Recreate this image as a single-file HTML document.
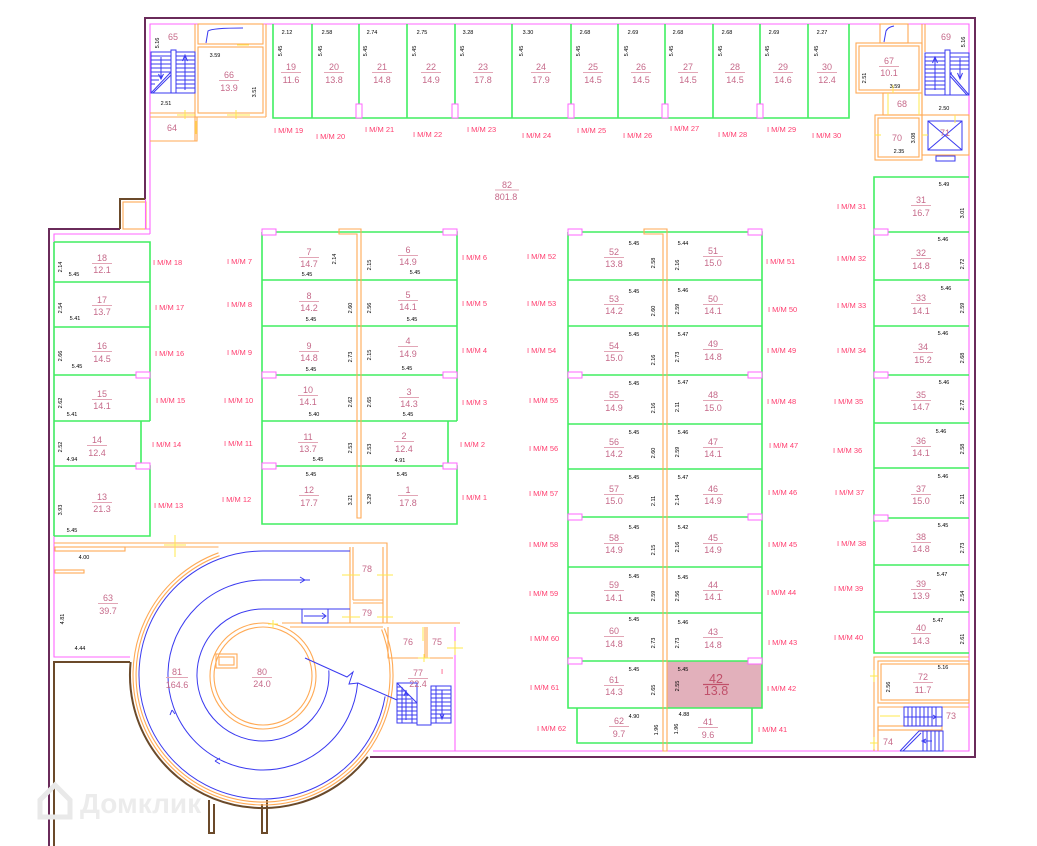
<!DOCTYPE html>
<html><head><meta charset="utf-8"><style>
html,body{margin:0;padding:0;background:#fff}
svg{display:block}
text{font-family:"Liberation Sans",sans-serif}
.l{font-size:7.5px;fill:#ff3c6e}
.n{font-size:9px;fill:#c66a8a;text-anchor:middle}
.d{font-size:5.5px;fill:#000;text-anchor:middle}
.g{stroke:#40ee60;stroke-width:1.6;fill:none}
.p{stroke:#ff66ff;stroke-width:1.1;fill:none}
.o{stroke:#ffaa55;stroke-width:1.1;fill:none}
.b{stroke:#3a3af0;stroke-width:1;fill:none}
.u{stroke:#e2a6b6;stroke-width:1;fill:none}
.y{stroke:#ffe84d;stroke-width:1;fill:none}
.dr{fill:#fff;stroke:#ff66ff;stroke-width:1}
.w{stroke:#6a2b5a;stroke-width:2;fill:none}
.br{stroke:#6b4a2a;stroke-width:2;fill:none}
</style></head><body>
<svg width="1037" height="846" viewBox="0 0 1037 846" xmlns="http://www.w3.org/2000/svg">
<rect width="1037" height="846" fill="#fff"/>

<!-- outer walls -->
<path class="w" d="M49,846 V229 H120 M145,199 V18 H975 V757 H370"/>
<path class="br" d="M145,199 H120 V229"/>
<path class="br" d="M54,846 V662 H130"/>
<path class="br" d="M130.6,662 A133,133 0 0 0 367.8,756.9"/>
<path class="br" stroke-width="1.5" d="M209,800 V833 H214 V804 M262,804 V833 H267 V800"/>
<rect class="o" x="123" y="202" width="23" height="27"/>

<!-- pink inner line -->
<path class="p" d="M150,234 V24 H969 V751 H455 M150,234 H54 V657 H130 M145.5,199 V229 H150"/>
<path class="p" d="M373,751 H455 V627"/>

<!-- top-left rooms -->
<path class="o" d="M195,24 V141 M197,117 V141 H150 M150,117 H266 M150,113 H195 M266,24 V117"/>
<rect class="o" x="198" y="24" width="65" height="20"/>
<rect class="o" x="198" y="47" width="65" height="66"/>
<path class="b" d="M206,43 L208,31 Q212,28 243,28"/>
<!-- stair 65 -->
<rect class="b" x="151" y="52" width="20" height="41"/>
<rect class="b" x="171" y="50" width="5" height="43"/>
<rect class="b" x="176" y="52" width="19" height="41"/>
<path class="b" d="M151,56h20M151,60h20M151,64h20M151,68h20M151,72h20M151,76h12M151,80h8M151,84h4M176,56h19M176,60h19M176,64h19M176,68h19M176,72h19M176,76h19M176,80h19M176,84h19M176,88h19M151,93L171,72M153,93L171,75"/>
<path class="b" d="M161,57V78M158.5,74L161,79L163.5,74M185,90V56M182.5,61L185,55L187.5,61"/>
<path class="y" d="M227,115h23M236,110v9M177,115h18M185,110v9M196,121v13M237,45h12"/>

<!-- top-right rooms -->
<rect class="o" x="880" y="24" width="28" height="19"/>
<path class="b" d="M884,42 L886,31 Q888,27 894,26"/>
<rect class="o" x="856" y="43" width="66" height="50"/>
<rect class="o" x="859" y="46" width="60" height="44"/>
<rect class="o" x="883" y="93" width="39" height="22"/>
<rect class="o" x="875" y="115" width="47" height="45"/>
<rect class="o" x="878" y="118" width="41" height="39"/>
<rect class="o" x="922" y="115" width="47" height="40"/>
<path class="o" d="M922,24 V115 M925,24 V52"/>
<rect class="b" x="928" y="121" width="34" height="29"/>
<path class="b" d="M928,121L962,150M962,121L928,150"/>
<rect class="b" x="936" y="156" width="19" height="5"/>
<!-- stair 69 -->
<rect class="b" x="925" y="53" width="20" height="42"/>
<rect class="b" x="945" y="50" width="5" height="45"/>
<rect class="b" x="950" y="53" width="19" height="42"/>
<path class="b" d="M925,57h20M925,61h20M925,65h20M925,69h20M925,73h20M925,77h20M925,81h20M925,85h20M925,89h20M950,57h19M950,61h19M950,65h19M950,69h19M950,73h2M950,73L969,95M950,76L967,95"/>
<path class="b" d="M935,90V58M932.5,63L935,57L937.5,63M960,58V78M957.5,73L960,79L962.5,73"/>
<path class="y" d="M955,115v8M893,93v-8M875,135h6M922,135h6M888,93v22M919,93v22"/>

<!-- top strip spots -->
<path class="g" d="M273,24V118H849V24M312,24V118M359,24V118M407,24V118M455,24V118M512,24V118M571,24V118M618,24V118M665,24V118M713,24V118M760,24V118M808,24V118"/>
<rect class="dr" x="356" y="104" width="6" height="14"/>
<rect class="dr" x="452" y="104" width="6" height="14"/>
<rect class="dr" x="568" y="104" width="6" height="14"/>
<rect class="dr" x="662" y="104" width="6" height="14"/>
<rect class="dr" x="757" y="104" width="6" height="14"/>

<!-- left column -->
<path class="g" d="M54,242H150V421M54,282H150M54,327H150M54,375H150M54,421H150M141,421V466M54,466H150V536H54M54,242V536"/>
<rect class="dr" x="136" y="372" width="14" height="6"/>
<rect class="dr" x="136" y="463" width="14" height="6"/>

<!-- center block -->
<path class="g" d="M262,232H457V421M262,280H457M262,326H457M262,375H457M262,421H457M448,421V466M262,466H457V524H262V232"/>
<path class="o" fill="#fff" d="M339,229H361V518H357V234H339Z"/>
<rect class="dr" x="262" y="229" width="14" height="6"/>
<rect class="dr" x="443" y="229" width="14" height="6"/>
<rect class="dr" x="262" y="372" width="14" height="6"/>
<rect class="dr" x="443" y="372" width="14" height="6"/>
<rect class="dr" x="262" y="463" width="14" height="6"/>
<rect class="dr" x="443" y="463" width="14" height="6"/>

<!-- center-right block -->
<rect x="667" y="661" width="95" height="47" fill="#e2b0bb"/>
<path class="g" d="M568,232H762V708H568V232M568,280H762M568,326H762M568,375H762M568,424H762M568,469H762M568,517H762M568,567H762M568,613H762M568,661H762M577,708V743H752V708"/>
<path class="o" fill="#fff" d="M644,229H667V751H663V234H644Z"/>
<rect class="dr" x="568" y="229" width="14" height="6"/>
<rect class="dr" x="748" y="229" width="14" height="6"/>
<rect class="dr" x="568" y="372" width="14" height="6"/>
<rect class="dr" x="748" y="372" width="14" height="6"/>
<rect class="dr" x="568" y="514" width="14" height="6"/>
<rect class="dr" x="748" y="514" width="14" height="6"/>
<rect class="dr" x="568" y="658" width="14" height="6"/>
<rect class="dr" x="748" y="658" width="14" height="6"/>

<!-- right column -->
<path class="g" d="M969,177H874V653H969M874,232H969M874,280H969M874,326H969M874,375H969M874,423H969M874,468H969M874,518H969M874,565H969M874,612H969"/>
<rect class="dr" x="874" y="229" width="14" height="6"/>
<rect class="dr" x="874" y="372" width="14" height="6"/>
<rect class="dr" x="874" y="515" width="14" height="6"/>

<!-- room 72-74 -->
<path class="o" d="M874,751V657H969"/>
<rect class="o" x="878" y="661" width="91" height="42"/>
<rect class="o" x="881" y="664" width="88" height="36"/>
<path class="o" d="M878,751V707H969"/>
<rect class="o" x="878" y="726" width="64" height="4" fill="#ffd6a8"/>
<rect class="b" x="904" y="707" width="38" height="19"/>
<path class="b" d="M908,707v19M912,707v19M916,707v19M920,707v19M924,707v19M928,707v19M932,707v19M936,707v19M904,717h38M928,717h8M933,715l3,2l-3,2"/>
<path class="b" d="M900,751H943V731H919L900,751M923,731v20M927,731v20M931,731v20M935,731v20M939,731v20M903,751L921,733M922,741h10M926,739l-4,2l4,2"/>
<path class="y" d="M874,670v12M870,676h8M874,737v12M870,743h8M880,716h20"/>

<!-- ramp area -->
<path class="o" d="M54,543H387V623M54,547H218.5M350,547V623M353,547V600M383,547V623M353,600H383M353,603H383M282,623H460M290,627H383M388,627V658H453M425,627V658M427,627V658"/>
<rect class="o" x="55" y="547" width="70" height="4"/>
<rect class="o" x="55" y="570" width="29" height="3"/>
<path class="o" d="M218.5,552.8 A130,130 0 1 0 384.4,628.4"/>
<path class="o" d="M219.6,555.7 A127,127 0 1 0 381.6,629.5"/>
<circle class="o" cx="263" cy="676" r="53"/>
<circle class="o" cx="263" cy="676" r="49"/>
<rect class="o" x="216" y="654" width="21" height="14"/>
<rect class="o" x="219" y="657" width="15" height="8"/>
<path class="b" d="M350,551H263A124,124 0 1 0 385.1,696.5"/>
<path class="b" d="M310,580H263A95,95 0 1 0 357.6,683.3"/>
<path class="b" d="M350,609H263A66,66 0 1 0 328.8,670.4"/>
<path class="b" d="M305,580l-5,-3M305,580l-5,3"/>
<path class="b" d="M172,710l-2,5M172,710l3,4"/>
<path class="b" d="M215,761l5,-3M215,761l5,3"/>
<rect class="b" x="302" y="609" width="26" height="14"/>
<path class="b" d="M304,616H326M322,613l4,3l-4,3"/>
<path class="b" d="M305,658L347,677L353,672L349,684L358,683L397,700"/>
<!-- stair 77 -->
<rect class="b" x="397" y="683" width="20" height="40"/>
<path class="b" d="M397,683L417,703M397,687h4M397,691h8M397,695h12M397,699h16M397,703h20M397,707h20M397,711h20M397,715h20M397,719h20M406,690v30M402,687v36M412,700v23M404,696l2,-5l2,5"/>
<rect class="b" x="431" y="686" width="20" height="37"/>
<path class="b" d="M431,690h20M431,694h20M431,698h20M431,702h20M431,706h20M431,710h20M431,714h20M431,718h20M436,686v37M442,690v28M440,714l2,5l2,-5M417,723v2H431v-2"/>
<path class="y" d="M164,545h22M175,535v22M342,575h18M377,575h16M342,617h18M377,617h16M268,624h10M273,620v8M423,627v14M447,648h16M455,641v14M418,658h12M424,654v8"/>

<!-- watermark -->
<path d="M40,800 L55,785 L70,800 V817 H40 Z" fill="none" stroke="#e9e9e9" stroke-width="5"/>
<text x="80" y="813" style="font-size:28px;font-weight:bold;fill:#ececec">Домклик</text>

<!-- TEXT: top-left/right rooms -->
<text class="n" x="173" y="40">65</text>
<text class="d" transform="translate(159,43) rotate(-90)">5.16</text>
<text class="d" x="166" y="105">2.51</text>
<text class="d" x="215" y="57">3.59</text>
<text class="n" x="229" y="78">66</text><path class="u" d="M219,80.5h20"/><text class="n" x="229" y="91">13.9</text>
<text class="d" transform="translate(256,92) rotate(-90)">3.51</text>
<text class="n" x="172" y="131">64</text>
<text class="n" x="889" y="64">67</text><path class="u" d="M879,66.5h20"/><text class="n" x="889" y="76">10.1</text>
<text class="d" transform="translate(866,78) rotate(-90)">2.51</text>
<text class="d" x="895" y="88">3.59</text>
<text class="n" x="902" y="107">68</text>
<text class="n" x="946" y="40">69</text>
<text class="d" transform="translate(965,42) rotate(-90)">5.16</text>
<text class="d" x="944" y="110">2.50</text>
<text class="n" x="897" y="141">70</text>
<text class="d" x="899" y="153">2.35</text>
<text class="d" transform="translate(915,138) rotate(-90)">3.08</text>
<text class="n" x="945" y="136">71</text>

<!-- top strip text -->
<text class="n" x="291" y="70">19</text><path class="u" d="M281,72.5h20"/><text class="n" x="291" y="83">11.6</text>
<text class="n" x="334" y="70">20</text><path class="u" d="M324,72.5h20"/><text class="n" x="334" y="83">13.8</text>
<text class="n" x="382" y="70">21</text><path class="u" d="M372,72.5h20"/><text class="n" x="382" y="83">14.8</text>
<text class="n" x="431" y="70">22</text><path class="u" d="M421,72.5h20"/><text class="n" x="431" y="83">14.9</text>
<text class="n" x="483" y="70">23</text><path class="u" d="M473,72.5h20"/><text class="n" x="483" y="83">17.8</text>
<text class="n" x="541" y="70">24</text><path class="u" d="M531,72.5h20"/><text class="n" x="541" y="83">17.9</text>
<text class="n" x="593" y="70">25</text><path class="u" d="M583,72.5h20"/><text class="n" x="593" y="83">14.5</text>
<text class="n" x="641" y="70">26</text><path class="u" d="M631,72.5h20"/><text class="n" x="641" y="83">14.5</text>
<text class="n" x="688" y="70">27</text><path class="u" d="M678,72.5h20"/><text class="n" x="688" y="83">14.5</text>
<text class="n" x="735" y="70">28</text><path class="u" d="M725,72.5h20"/><text class="n" x="735" y="83">14.5</text>
<text class="n" x="783" y="70">29</text><path class="u" d="M773,72.5h20"/><text class="n" x="783" y="83">14.6</text>
<text class="n" x="827" y="70">30</text><path class="u" d="M817,72.5h20"/><text class="n" x="827" y="83">12.4</text>
<text class="d" x="287" y="34">2.12</text><text class="d" x="327" y="34">2.58</text><text class="d" x="372" y="34">2.74</text><text class="d" x="422" y="34">2.75</text><text class="d" x="468" y="34">3.28</text><text class="d" x="528" y="34">3.30</text><text class="d" x="585" y="34">2.68</text><text class="d" x="633" y="34">2.69</text><text class="d" x="678" y="34">2.68</text><text class="d" x="727" y="34">2.68</text><text class="d" x="774" y="34">2.69</text><text class="d" x="822" y="34">2.27</text>
<text class="d" transform="translate(282,51) rotate(-90)">5.45</text>
<text class="d" transform="translate(322,51) rotate(-90)">5.45</text>
<text class="d" transform="translate(367,51) rotate(-90)">5.45</text>
<text class="d" transform="translate(416,51) rotate(-90)">5.45</text>
<text class="d" transform="translate(464,51) rotate(-90)">5.45</text>
<text class="d" transform="translate(523,51) rotate(-90)">5.45</text>
<text class="d" transform="translate(580,51) rotate(-90)">5.45</text>
<text class="d" transform="translate(628,51) rotate(-90)">5.45</text>
<text class="d" transform="translate(673,51) rotate(-90)">5.45</text>
<text class="d" transform="translate(722,51) rotate(-90)">5.45</text>
<text class="d" transform="translate(769,51) rotate(-90)">5.45</text>
<text class="d" transform="translate(818,51) rotate(-90)">5.45</text>
<text class="l" x="274" y="133">I М/М 19</text>
<text class="l" x="316" y="139">I М/М 20</text>
<text class="l" x="365" y="132">I М/М 21</text>
<text class="l" x="413" y="137">I М/М 22</text>
<text class="l" x="467" y="132">I М/М 23</text>
<text class="l" x="522" y="138">I М/М 24</text>
<text class="l" x="577" y="133">I М/М 25</text>
<text class="l" x="623" y="138">I М/М 26</text>
<text class="l" x="670" y="131">I М/М 27</text>
<text class="l" x="718" y="137">I М/М 28</text>
<text class="l" x="767" y="132">I М/М 29</text>
<text class="l" x="812" y="138">I М/М 30</text>

<!-- 82 -->
<text class="n" x="507" y="188">82</text><path class="u" d="M495,190h24"/><text class="n" x="506" y="200">801.8</text>

<!-- left column text -->
<text class="n" x="102" y="261">18</text><path class="u" d="M92,263.5h20"/><text class="n" x="102" y="273">12.1</text>
<text class="n" x="102" y="303">17</text><path class="u" d="M92,305.5h20"/><text class="n" x="102" y="315">13.7</text>
<text class="n" x="102" y="349">16</text><path class="u" d="M92,351.5h20"/><text class="n" x="102" y="362">14.5</text>
<text class="n" x="102" y="397">15</text><path class="u" d="M92,399.5h20"/><text class="n" x="102" y="409">14.1</text>
<text class="n" x="97" y="443">14</text><path class="u" d="M87,445.5h20"/><text class="n" x="97" y="456">12.4</text>
<text class="n" x="102" y="500">13</text><path class="u" d="M92,502.5h20"/><text class="n" x="102" y="512">21.3</text>
<text class="d" x="74" y="276">5.45</text><text class="d" transform="translate(62,267) rotate(-90)">2.14</text>
<text class="d" x="75" y="320">5.41</text><text class="d" transform="translate(62,308) rotate(-90)">2.54</text>
<text class="d" x="77" y="368">5.45</text><text class="d" transform="translate(62,356) rotate(-90)">2.66</text>
<text class="d" x="72" y="416">5.41</text><text class="d" transform="translate(62,403) rotate(-90)">2.62</text>
<text class="d" x="72" y="461">4.94</text><text class="d" transform="translate(62,447) rotate(-90)">2.52</text>
<text class="d" x="72" y="532">5.45</text><text class="d" transform="translate(62,510) rotate(-90)">3.93</text>
<text class="l" x="153" y="265">I М/М 18</text>
<text class="l" x="155" y="310">I М/М 17</text>
<text class="l" x="155" y="356">I М/М 16</text>
<text class="l" x="156" y="403">I М/М 15</text>
<text class="l" x="152" y="447">I М/М 14</text>
<text class="l" x="154" y="508">I М/М 13</text>
<text class="l" x="227" y="264">I М/М 7</text>
<text class="l" x="227" y="307">I М/М 8</text>
<text class="l" x="227" y="355">I М/М 9</text>
<text class="l" x="224" y="403">I М/М 10</text>
<text class="l" x="224" y="446">I М/М 11</text>
<text class="l" x="222" y="502">I М/М 12</text>

<!-- center block text -->
<text class="n" x="309" y="255">7</text><path class="u" d="M299,257.5h20"/><text class="n" x="309" y="267">14.7</text>
<text class="n" x="309" y="299">8</text><path class="u" d="M299,301.5h20"/><text class="n" x="309" y="311">14.2</text>
<text class="n" x="309" y="349">9</text><path class="u" d="M299,351.5h20"/><text class="n" x="309" y="361">14.8</text>
<text class="n" x="308" y="393">10</text><path class="u" d="M298,395.5h20"/><text class="n" x="308" y="405">14.1</text>
<text class="n" x="308" y="440">11</text><path class="u" d="M298,442.5h20"/><text class="n" x="308" y="452">13.7</text>
<text class="n" x="309" y="493">12</text><path class="u" d="M299,495.5h20"/><text class="n" x="309" y="506">17.7</text>
<text class="d" x="307" y="276">5.45</text><text class="d" transform="translate(336,259) rotate(-90)">2.14</text>
<text class="d" x="311" y="321">5.45</text><text class="d" transform="translate(352,308) rotate(-90)">2.60</text>
<text class="d" x="311" y="371">5.45</text><text class="d" transform="translate(352,357) rotate(-90)">2.73</text>
<text class="d" x="314" y="416">5.40</text><text class="d" transform="translate(352,402) rotate(-90)">2.62</text>
<text class="d" x="318" y="461">5.45</text><text class="d" transform="translate(352,448) rotate(-90)">2.53</text>
<text class="d" x="311" y="476">5.45</text><text class="d" transform="translate(352,500) rotate(-90)">3.21</text>
<text class="n" x="408" y="253">6</text><path class="u" d="M398,255.5h20"/><text class="n" x="408" y="265">14.9</text>
<text class="n" x="408" y="298">5</text><path class="u" d="M398,300.5h20"/><text class="n" x="408" y="310">14.1</text>
<text class="n" x="408" y="344">4</text><path class="u" d="M398,346.5h20"/><text class="n" x="408" y="357">14.9</text>
<text class="n" x="409" y="395">3</text><path class="u" d="M399,397.5h20"/><text class="n" x="409" y="407">14.3</text>
<text class="n" x="404" y="439">2</text><path class="u" d="M394,441.5h20"/><text class="n" x="404" y="452">12.4</text>
<text class="n" x="408" y="493">1</text><path class="u" d="M398,495.5h20"/><text class="n" x="408" y="506">17.8</text>
<text class="d" x="415" y="274">5.45</text><text class="d" transform="translate(371,265) rotate(-90)">2.15</text>
<text class="d" x="412" y="321">5.45</text><text class="d" transform="translate(371,308) rotate(-90)">2.56</text>
<text class="d" x="407" y="370">5.45</text><text class="d" transform="translate(371,355) rotate(-90)">2.15</text>
<text class="d" x="408" y="416">5.45</text><text class="d" transform="translate(371,402) rotate(-90)">2.65</text>
<text class="d" x="400" y="462">4.91</text><text class="d" transform="translate(371,449) rotate(-90)">2.53</text>
<text class="d" x="402" y="476">5.45</text><text class="d" transform="translate(371,499) rotate(-90)">3.29</text>
<text class="l" x="462" y="260">I М/М 6</text>
<text class="l" x="462" y="306">I М/М 5</text>
<text class="l" x="462" y="353">I М/М 4</text>
<text class="l" x="462" y="405">I М/М 3</text>
<text class="l" x="460" y="447">I М/М 2</text>
<text class="l" x="462" y="500">I М/М 1</text>

<!-- center-right text -->
<text class="l" x="527" y="259">I М/М 52</text>
<text class="l" x="527" y="306">I М/М 53</text>
<text class="l" x="527" y="353">I М/М 54</text>
<text class="l" x="529" y="403">I М/М 55</text>
<text class="l" x="529" y="451">I М/М 56</text>
<text class="l" x="529" y="496">I М/М 57</text>
<text class="l" x="529" y="547">I М/М 58</text>
<text class="l" x="529" y="596">I М/М 59</text>
<text class="l" x="530" y="641">I М/М 60</text>
<text class="l" x="530" y="690">I М/М 61</text>
<text class="l" x="537" y="731">I М/М 62</text>
<text class="l" x="766" y="264">I М/М 51</text>
<text class="l" x="768" y="312">I М/М 50</text>
<text class="l" x="767" y="353">I М/М 49</text>
<text class="l" x="767" y="404">I М/М 48</text>
<text class="l" x="769" y="448">I М/М 47</text>
<text class="l" x="768" y="495">I М/М 46</text>
<text class="l" x="768" y="547">I М/М 45</text>
<text class="l" x="767" y="595">I М/М 44</text>
<text class="l" x="768" y="645">I М/М 43</text>
<text class="l" x="767" y="691">I М/М 42</text>
<text class="l" x="758" y="732">I М/М 41</text>

<text class="n" x="614" y="255">52</text><path class="u" d="M604,257.5h20"/><text class="n" x="614" y="267">13.8</text>
<text class="n" x="614" y="302">53</text><path class="u" d="M604,304.5h20"/><text class="n" x="614" y="314">14.2</text>
<text class="n" x="614" y="349">54</text><path class="u" d="M604,351.5h20"/><text class="n" x="614" y="361">15.0</text>
<text class="n" x="614" y="398">55</text><path class="u" d="M604,400.5h20"/><text class="n" x="614" y="411">14.9</text>
<text class="n" x="614" y="445">56</text><path class="u" d="M604,447.5h20"/><text class="n" x="614" y="457">14.2</text>
<text class="n" x="614" y="492">57</text><path class="u" d="M604,494.5h20"/><text class="n" x="614" y="504">15.0</text>
<text class="n" x="614" y="541">58</text><path class="u" d="M604,543.5h20"/><text class="n" x="614" y="553">14.9</text>
<text class="n" x="614" y="588">59</text><path class="u" d="M604,590.5h20"/><text class="n" x="614" y="601">14.1</text>
<text class="n" x="614" y="634">60</text><path class="u" d="M604,636.5h20"/><text class="n" x="614" y="647">14.8</text>
<text class="n" x="614" y="683">61</text><path class="u" d="M604,685.5h20"/><text class="n" x="614" y="695">14.3</text>
<text class="n" x="619" y="724">62</text><path class="u" d="M609,726.5h20"/><text class="n" x="619" y="737">9.7</text>
<text class="d" x="634" y="245">5.45</text><text class="d" transform="translate(655,263) rotate(-90)">2.58</text>
<text class="d" x="634" y="293">5.45</text><text class="d" transform="translate(655,311) rotate(-90)">2.60</text>
<text class="d" x="634" y="336">5.45</text><text class="d" transform="translate(655,360) rotate(-90)">2.16</text>
<text class="d" x="634" y="385">5.45</text><text class="d" transform="translate(655,408) rotate(-90)">2.16</text>
<text class="d" x="634" y="434">5.45</text><text class="d" transform="translate(655,453) rotate(-90)">2.60</text>
<text class="d" x="634" y="479">5.45</text><text class="d" transform="translate(655,501) rotate(-90)">2.11</text>
<text class="d" x="634" y="529">5.45</text><text class="d" transform="translate(655,550) rotate(-90)">2.15</text>
<text class="d" x="634" y="578">5.45</text><text class="d" transform="translate(655,596) rotate(-90)">2.59</text>
<text class="d" x="634" y="621">5.45</text><text class="d" transform="translate(655,643) rotate(-90)">2.73</text>
<text class="d" x="634" y="671">5.45</text><text class="d" transform="translate(655,690) rotate(-90)">2.65</text>
<text class="d" x="634" y="718">4.90</text><text class="d" transform="translate(658,730) rotate(-90)">1.96</text>

<text class="n" x="713" y="254">51</text><path class="u" d="M703,256.5h20"/><text class="n" x="713" y="266">15.0</text>
<text class="n" x="713" y="302">50</text><path class="u" d="M703,304.5h20"/><text class="n" x="713" y="314">14.1</text>
<text class="n" x="713" y="347">49</text><path class="u" d="M703,349.5h20"/><text class="n" x="713" y="360">14.8</text>
<text class="n" x="713" y="398">48</text><path class="u" d="M703,400.5h20"/><text class="n" x="713" y="411">15.0</text>
<text class="n" x="713" y="445">47</text><path class="u" d="M703,447.5h20"/><text class="n" x="713" y="457">14.1</text>
<text class="n" x="713" y="492">46</text><path class="u" d="M703,494.5h20"/><text class="n" x="713" y="504">14.9</text>
<text class="n" x="713" y="541">45</text><path class="u" d="M703,543.5h20"/><text class="n" x="713" y="553">14.9</text>
<text class="n" x="713" y="588">44</text><path class="u" d="M703,590.5h20"/><text class="n" x="713" y="600">14.1</text>
<text class="n" x="713" y="635">43</text><path class="u" d="M703,637.5h20"/><text class="n" x="713" y="648">14.8</text>
<text x="716" y="683" style="font-size:12.5px;fill:#c0506a;text-anchor:middle">42</text><path d="M703,684.5h26" stroke="#c0506a" stroke-width="1.2"/><text x="716" y="695" style="font-size:12.5px;fill:#c0506a;text-anchor:middle">13.8</text>
<text class="n" x="708" y="725">41</text><path class="u" d="M698,727.5h20"/><text class="n" x="708" y="738">9.6</text>
<text class="d" x="683" y="245">5.44</text><text class="d" transform="translate(679,265) rotate(-90)">2.16</text>
<text class="d" x="683" y="292">5.46</text><text class="d" transform="translate(679,309) rotate(-90)">2.59</text>
<text class="d" x="683" y="336">5.47</text><text class="d" transform="translate(679,357) rotate(-90)">2.73</text>
<text class="d" x="683" y="384">5.47</text><text class="d" transform="translate(679,407) rotate(-90)">2.11</text>
<text class="d" x="683" y="434">5.46</text><text class="d" transform="translate(679,452) rotate(-90)">2.59</text>
<text class="d" x="683" y="479">5.47</text><text class="d" transform="translate(679,500) rotate(-90)">2.14</text>
<text class="d" x="683" y="529">5.42</text><text class="d" transform="translate(679,547) rotate(-90)">2.16</text>
<text class="d" x="683" y="579">5.45</text><text class="d" transform="translate(679,596) rotate(-90)">2.56</text>
<text class="d" x="683" y="624">5.46</text><text class="d" transform="translate(679,643) rotate(-90)">2.73</text>
<text class="d" x="683" y="671">5.45</text><text class="d" transform="translate(679,686) rotate(-90)">2.55</text>
<text class="d" x="684" y="716">4.88</text><text class="d" transform="translate(678,729) rotate(-90)">1.96</text>

<!-- right column text -->
<text class="l" x="837" y="209">I М/М 31</text>
<text class="l" x="837" y="261">I М/М 32</text>
<text class="l" x="837" y="308">I М/М 33</text>
<text class="l" x="837" y="353">I М/М 34</text>
<text class="l" x="834" y="404">I М/М 35</text>
<text class="l" x="833" y="453">I М/М 36</text>
<text class="l" x="835" y="495">I М/М 37</text>
<text class="l" x="837" y="546">I М/М 38</text>
<text class="l" x="834" y="591">I М/М 39</text>
<text class="l" x="834" y="640">I М/М 40</text>
<text class="n" x="921" y="203">31</text><path class="u" d="M911,205.5h20"/><text class="n" x="921" y="216">16.7</text>
<text class="n" x="921" y="256">32</text><path class="u" d="M911,258.5h20"/><text class="n" x="921" y="269">14.8</text>
<text class="n" x="921" y="301">33</text><path class="u" d="M911,303.5h20"/><text class="n" x="921" y="314">14.1</text>
<text class="n" x="923" y="350">34</text><path class="u" d="M913,352.5h20"/><text class="n" x="923" y="363">15.2</text>
<text class="n" x="921" y="398">35</text><path class="u" d="M911,400.5h20"/><text class="n" x="921" y="410">14.7</text>
<text class="n" x="921" y="444">36</text><path class="u" d="M911,446.5h20"/><text class="n" x="921" y="456">14.1</text>
<text class="n" x="921" y="492">37</text><path class="u" d="M911,494.5h20"/><text class="n" x="921" y="504">15.0</text>
<text class="n" x="921" y="540">38</text><path class="u" d="M911,542.5h20"/><text class="n" x="921" y="552">14.8</text>
<text class="n" x="921" y="587">39</text><path class="u" d="M911,589.5h20"/><text class="n" x="921" y="599">13.9</text>
<text class="n" x="921" y="631">40</text><path class="u" d="M911,633.5h20"/><text class="n" x="921" y="644">14.3</text>
<text class="d" x="944" y="186">5.49</text><text class="d" transform="translate(964,213) rotate(-90)">3.01</text>
<text class="d" x="943" y="241">5.46</text><text class="d" transform="translate(964,264) rotate(-90)">2.72</text>
<text class="d" x="946" y="290">5.46</text><text class="d" transform="translate(964,308) rotate(-90)">2.59</text>
<text class="d" x="943" y="335">5.46</text><text class="d" transform="translate(964,358) rotate(-90)">2.68</text>
<text class="d" x="944" y="384">5.46</text><text class="d" transform="translate(964,405) rotate(-90)">2.72</text>
<text class="d" x="941" y="433">5.46</text><text class="d" transform="translate(964,449) rotate(-90)">2.58</text>
<text class="d" x="943" y="478">5.46</text><text class="d" transform="translate(964,499) rotate(-90)">2.11</text>
<text class="d" x="943" y="527">5.45</text><text class="d" transform="translate(964,548) rotate(-90)">2.73</text>
<text class="d" x="942" y="576">5.47</text><text class="d" transform="translate(964,596) rotate(-90)">2.54</text>
<text class="d" x="938" y="622">5.47</text><text class="d" transform="translate(964,639) rotate(-90)">2.61</text>
<text class="n" x="923" y="680">72</text><path class="u" d="M913,682.5h20"/><text class="n" x="923" y="693">11.7</text>
<text class="d" x="943" y="669">5.16</text><text class="d" transform="translate(890,687) rotate(-90)">2.56</text>
<text class="n" x="951" y="719">73</text>
<text class="n" x="888" y="745">74</text>

<!-- ramp text -->
<text class="d" x="84" y="559">4.00</text>
<text class="d" transform="translate(64,619) rotate(-90)">4.81</text>
<text class="d" x="80" y="650">4.44</text>
<text class="n" x="108" y="601">63</text><path class="u" d="M98,603.5h20"/><text class="n" x="108" y="614">39.7</text>
<text class="n" x="177" y="675">81</text><path class="u" d="M166,677.5h22"/><text class="n" x="177" y="688">164.6</text>
<text class="n" x="262" y="675">80</text><path class="u" d="M252,677.5h20"/><text class="n" x="262" y="687">24.0</text>
<text class="n" x="367" y="572">78</text>
<text class="n" x="367" y="616">79</text>
<text class="n" x="408" y="645">76</text>
<text class="n" x="437" y="645">75</text>
<text class="n" x="418" y="676">77</text><path class="u" d="M408,678.5h20"/><text class="n" x="418" y="687">22.4</text>
<text class="l" x="441" y="674">I</text>
</svg>
</body></html>
